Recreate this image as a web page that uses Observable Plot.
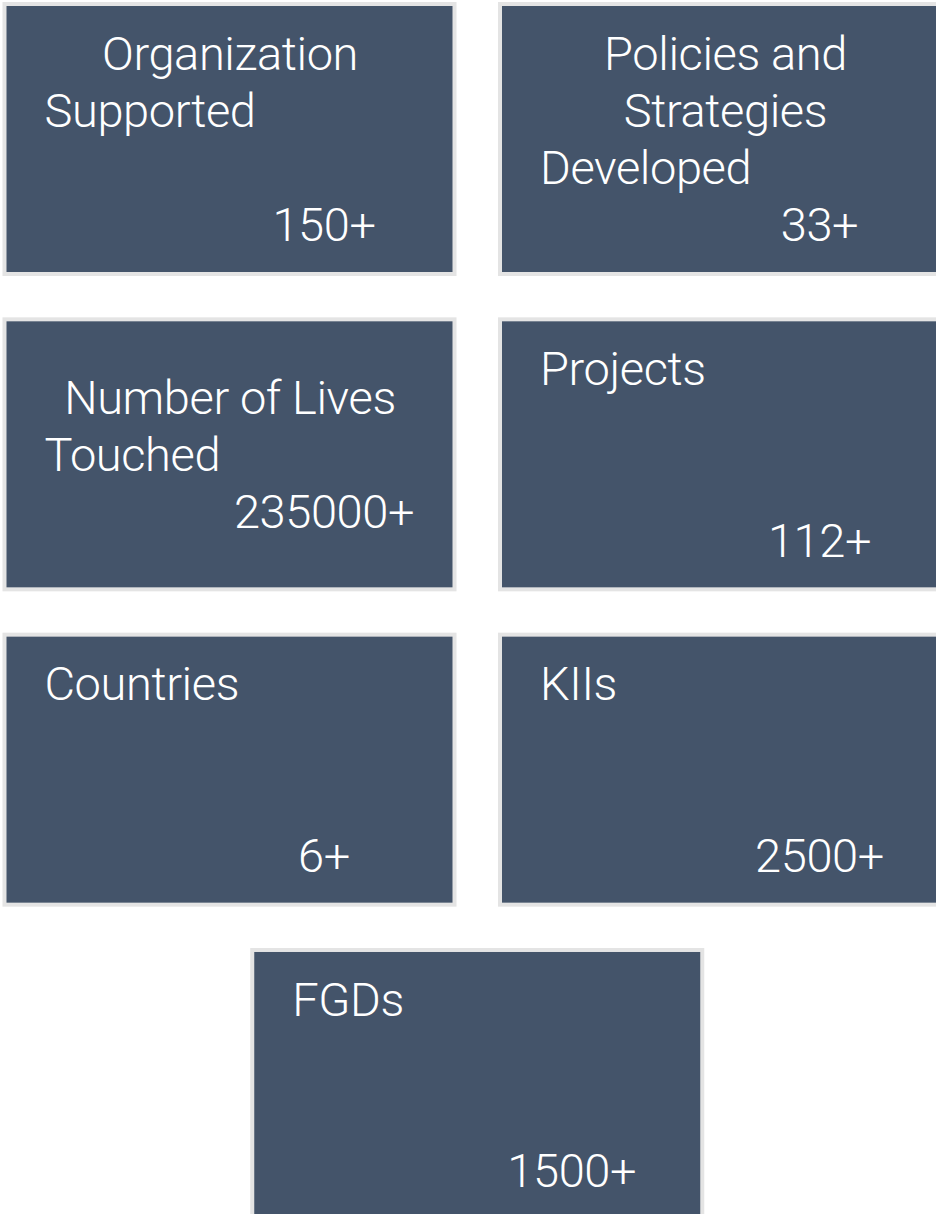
<!DOCTYPE html>
<html>
<head>
<meta charset="utf-8">
<script src="https://cdn.jsdelivr.net/npm/d3@7"></script>
<script src="https://cdn.jsdelivr.net/npm/@observablehq/plot@0.6"></script>
<style>
  html, body { margin: 0; padding: 0; background: #ffffff; overflow: hidden; }
  #chart svg { display: block; overflow: hidden; }
  #chart svg text { letter-spacing: -0.4px; }
</style>
</head>
<body>
<div id="chart"></div>
<script>
// ---- data ----
const categories = ["Organization Supported", "Policies and Strategies Developed", "Number of Lives Touched", "Projects", "Countries", "KIIs", "FGDs"];
const titleLines = [["Organization", "Supported"], ["Policies and", "Strategies", "Developed"], ["Number of Lives", "Touched"], ["Projects"], ["Countries"], ["KIIs"], ["FGDs"]];
const values = ["150+", "33+", "235000+", "112+", "6+", "2500+", "1500+"];
const gridCol = [0, 1, 0, 1, 0, 1, 0.5];
const gridRow = [0, 0, 1, 1, 2, 2, 3];

// ---- layout (not data) ----
const titleAlign = [["middle", "start"], ["middle", "middle", "start"], ["middle", "start"], ["start"], ["start"], ["start"], ["start"]];
const blankLines = [1, 0, 0, 2, 2, 2, 2];
const PITCH_X = 495.5, PITCH_Y = 315.33;
const BOX_W = 450 / PITCH_X, BOX_H = 270 / PITCH_Y;
const LINE_CENTER = 151, LINE_STEP = 57.3;
const FONT = "Roboto, 'Liberation Sans', sans-serif";
const FS = 47;

const boxes = categories.map((c, k) => ({category: c, col: gridCol[k], row: gridRow[k]}));
const lines = [];
boxes.forEach((b, k) => {
  const seq = titleLines[k].map((t, j) => ({text: t, kind: titleAlign[k][j]}));
  for (let j = 0; j < blankLines[k]; j++) seq.push({text: "", kind: "blank"});
  seq.push({text: values[k], kind: "value"});
  const n = seq.length;
  seq.forEach((s, i) => {
    if (s.kind === "blank") return;
    lines.push({
      ...s,
      col: b.col,
      y: b.row + (LINE_CENTER + (i - (n - 1) / 2) * LINE_STEP) / PITCH_Y
    });
  });
});

const textOpts = {y: "y", text: "text", lineAnchor: "bottom", fontSize: FS, fontFamily: FONT, fontWeight: 300, fill: "#ffffff"};

const chart = Plot.plot({
  width: 936,
  height: 1214,
  margin: 0,
  style: {background: "#ffffff", overflow: "hidden"},
  x: {domain: [0, 1], range: [4.5, 4.5 + PITCH_X], axis: null},
  y: {domain: [0, 3], range: [4, 4 + 3 * PITCH_Y], axis: null},
  marks: [
    Plot.rect(boxes, {
      x1: "col", x2: d => d.col + BOX_W,
      y1: "row", y2: d => d.row + BOX_H,
      fill: "#44546A", stroke: "#e4e4e4", strokeWidth: 4
    }),
    Plot.text(lines.filter(d => d.kind === "start"), {...textOpts, x: "col", dx: 39.5, textAnchor: "start"}),
    Plot.text(lines.filter(d => d.kind === "middle"), {...textOpts, x: d => d.col + BOX_W / 2, textAnchor: "middle"}),
    Plot.text(lines.filter(d => d.kind === "value"), {...textOpts, x: "col", dx: 319, textAnchor: "middle"})
  ]
});
document.getElementById("chart").append(chart);
</script>
</body>
</html>
